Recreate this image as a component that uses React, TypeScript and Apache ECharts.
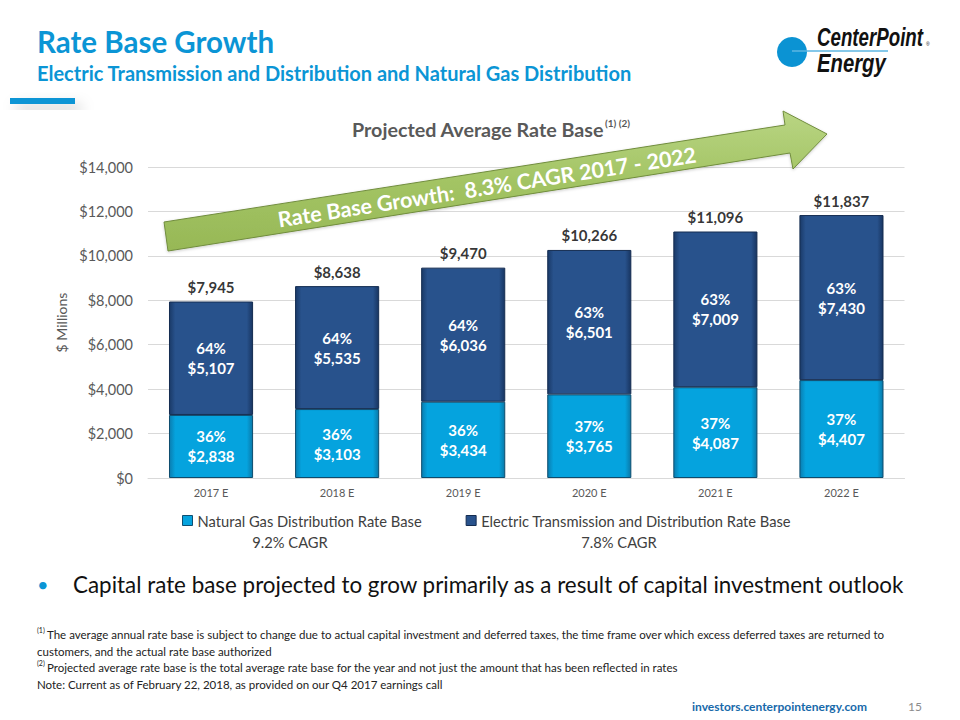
import React, { useEffect, useRef } from "react";
import * as echarts from "echarts";

const categories = ["2017 E", "2018 E", "2019 E", "2020 E", "2021 E", "2022 E"];
const gasValues = [2838, 3103, 3434, 3765, 4087, 4407];
const electricValues = [5107, 5535, 6036, 6501, 7009, 7430];
const seriesNames = [
  "Natural Gas Distribution Rate Base",
  "Electric Transmission and Distribution Rate Base",
];
const cagrLabels = ["9.2% CAGR", "7.8% CAGR"];
const yMin = 0;
const yMax = 14000;
const yInterval = 2000;

const FONT = "Lato, 'Open Sans', sans-serif";
const LOGO_FONT = "'Liberation Sans', Arial, sans-serif";
const BLUE = "#0b95d5";

const fmt = (v: number) => "$" + v.toLocaleString("en-US");

export default function App() {
  const ref = useRef<HTMLDivElement>(null);

  useEffect(() => {
    if (!ref.current) return;
    const chart = echarts.init(ref.current, undefined, { renderer: "svg" });
    const totals = gasValues.map((g, i) => g + electricValues[i]);

    const segLabel = (vals: number[]) => ({
      show: true,
      position: "inside",
      color: "#ffffff",
      fontFamily: FONT,
      fontWeight: "bold",
      fontSize: 15,
      lineHeight: 20,
      formatter: (p: any) => {
        const pct = Math.round((vals[p.dataIndex] / totals[p.dataIndex]) * 100);
        return pct + "%\n" + fmt(vals[p.dataIndex]);
      },
    });

    const navyGrad = {
      type: "linear", x: 0, y: 0, x2: 1, y2: 0,
      colorStops: [
        { offset: 0, color: "#1a3a68" },
        { offset: 0.07, color: "#28528c" },
        { offset: 0.93, color: "#28528c" },
        { offset: 1, color: "#183561" },
      ],
    };
    const lightGrad = {
      type: "linear", x: 0, y: 0, x2: 1, y2: 0,
      colorStops: [
        { offset: 0, color: "#0a7db0" },
        { offset: 0.07, color: "#05a3de" },
        { offset: 0.93, color: "#05a3de" },
        { offset: 1, color: "#0a78a8" },
      ],
    };

    const footY = [634, 651, 667, 684];
    const footFont = `11.5px ${FONT}`;

    chart.setOption({
      animation: false,
      backgroundColor: "#ffffff",
      textStyle: { fontFamily: FONT },
      grid: { left: 148, right: 55.5, top: 167, bottom: 242, containLabel: false },
      xAxis: {
        type: "category",
        data: categories,
        axisTick: { show: false },
        axisLine: { lineStyle: { color: "#d9d9d9", width: 1 } },
        axisLabel: { color: "#595959", fontSize: 11, margin: 9, fontFamily: FONT },
      },
      yAxis: {
        type: "value",
        min: yMin,
        max: yMax,
        interval: yInterval,
        name: "$ Millions",
        nameLocation: "middle",
        nameGap: 70,
        nameRotate: 90,
        nameTextStyle: { color: "#595959", fontSize: 14, fontFamily: FONT },
        axisLine: { show: false },
        axisTick: { show: false },
        splitLine: { lineStyle: { color: "#d9d9d9", width: 1 } },
        axisLabel: {
          color: "#595959",
          fontSize: 14.5,
          margin: 15,
          fontFamily: FONT,
          formatter: (v: number) => fmt(v),
        },
      },
      legend: {
        left: 177,
        top: 508,
        itemWidth: 10,
        itemHeight: 10,
        itemGap: 44,
        icon: "rect",
        textStyle: { color: "#404040", fontSize: 14.7, fontFamily: FONT },
        data: [
          { name: seriesNames[0], itemStyle: { color: "#05a3de", borderColor: "#0e4f72", borderWidth: 1 } },
          { name: seriesNames[1], itemStyle: { color: "#28528c", borderColor: "#142c50", borderWidth: 1 } },
        ],
      },
      series: [
        {
          name: seriesNames[0],
          type: "bar",
          stack: "total",
          barWidth: "66.7%",
          data: gasValues,
          itemStyle: { color: lightGrad, borderColor: "#0d4c6e", borderWidth: 1 },
          label: segLabel(gasValues),
        },
        {
          name: seriesNames[1],
          type: "bar",
          stack: "total",
          barWidth: "66.7%",
          data: electricValues,
          itemStyle: { color: navyGrad, borderColor: "#142c50", borderWidth: 1 },
          label: segLabel(electricValues),
        },
        {
          name: "Total",
          type: "scatter",
          symbolSize: 0,
          silent: true,
          data: totals,
          label: {
            show: true,
            position: "top",
            distance: 7,
            color: "#000000",
            fontWeight: "bold",
            fontSize: 15,
            fontFamily: FONT,
            formatter: (p: any) => fmt(p.value),
          },
          z: 5,
        },
      ],
      graphic: [
        { type: "text", x: 37, y: 41, style: { text: "Rate Base Growth", fill: BLUE, verticalAlign: "middle", font: `bold 29.5px ${FONT}` } },
        {
          type: "text", x: 37, y: 73,
          style: { text: "Electric Transmission and Distribution and Natural Gas Distribution", fill: BLUE, verticalAlign: "middle", font: `bold 20px ${FONT}` },
        },
        {
          type: "rect", shape: { x: 10, y: 98, width: 65, height: 6 },
          style: { fill: BLUE, shadowBlur: 14, shadowColor: "rgba(0,0,0,0.25)", shadowOffsetY: 8, shadowOffsetX: 6 },
        },
        // logo
        { type: "circle", shape: { cx: 792, cy: 52, r: 15 }, style: { fill: "#0b93d3" } },
        { type: "line", shape: { x1: 792, y1: 51, x2: 888, y2: 51 }, style: { stroke: "#5cb6e2", lineWidth: 1.5 } },
        {
          type: "text", x: 817, y: 37, scaleX: 0.72,
          style: {
            text: "CenterPoint", fill: "#111111", verticalAlign: "middle",
            font: `italic bold 26px ${LOGO_FONT}`,
          },
        },
        { type: "text", x: 926, y: 44, style: { text: "®", fill: "#111", font: "5px sans-serif", verticalAlign: "middle" } },
        {
          type: "text", x: 817, y: 63, scaleX: 0.78,
          style: {
            text: "Energy", fill: "#111111", verticalAlign: "middle",
            font: `italic bold 26px ${LOGO_FONT}`,
          },
        },
        // chart title
        {
          type: "text", x: 352, y: 129,
          style: { text: "Projected Average Rate Base", fill: "#595959", verticalAlign: "middle", font: `bold 19.7px ${FONT}` },
        },
        {
          type: "text", x: 605, y: 123,
          style: { text: "(1) (2)", fill: "#595959", verticalAlign: "middle", font: `bold 10px ${FONT}` },
        },
        // arrow
        {
          type: "polygon",
          z: 50,
          shape: {
            points: [
              [164, 222], [785, 125], [783, 111], [827, 134], [793, 169], [790, 153], [168, 251],
            ],
          },
          style: {
            fill: {
              type: "linear", x: 0, y: 0, x2: 0, y2: 1,
              colorStops: [
                { offset: 0, color: "#b9d583" },
                { offset: 0.5, color: "#a3c464" },
                { offset: 1, color: "#97b856" },
              ],
            },
            stroke: "#718d3e",
            lineWidth: 1,
            shadowBlur: 3,
            shadowColor: "rgba(0,0,0,0.2)",
            shadowOffsetY: 1,
          },
        },
        {
          type: "text",
          z: 51,
          x: 487,
          y: 187,
          rotation: 0.155,
          style: {
            text: "Rate Base Growth:  8.3% CAGR 2017 - 2022",
            fill: "#ffffff",
            align: "center",
            verticalAlign: "middle",
            font: `bold 21.5px ${FONT}`,
          },
        },
        // CAGR under legend
        { type: "text", x: 290, y: 542, style: { text: cagrLabels[0], fill: "#404040", align: "center", verticalAlign: "middle", font: `14.7px ${FONT}` } },
        { type: "text", x: 619, y: 542, style: { text: cagrLabels[1], fill: "#404040", align: "center", verticalAlign: "middle", font: `14.7px ${FONT}` } },
        // bullet
        { type: "text", x: 37, y: 584, style: { text: "•", fill: BLUE, verticalAlign: "middle", font: `20px ${FONT}` } },
        {
          type: "text", x: 73, y: 584,
          style: {
            text: "Capital rate base projected to grow primarily as a result of capital investment outlook",
            fill: "#111111", verticalAlign: "middle", font: `22.4px ${FONT}`,
          },
        },
        // footnotes
        { type: "text", x: 37, y: footY[0] - 4, style: { text: "(1)", fill: "#222", verticalAlign: "middle", font: `7px ${FONT}` } },
        {
          type: "text", x: 47, y: footY[0],
          style: {
            text: "The average annual rate base is subject to change due to actual capital investment and deferred taxes, the time frame over which excess deferred taxes are returned to",
            fill: "#222", verticalAlign: "middle", font: footFont,
          },
        },
        {
          type: "text", x: 37, y: footY[1],
          style: { text: "customers, and the actual rate base authorized", fill: "#222", verticalAlign: "middle", font: footFont },
        },
        { type: "text", x: 37, y: footY[2] - 4, style: { text: "(2)", fill: "#222", verticalAlign: "middle", font: `7px ${FONT}` } },
        {
          type: "text", x: 47, y: footY[2],
          style: {
            text: "Projected average rate base is the total average rate base for the year and not just the amount that has been reflected in rates",
            fill: "#222", verticalAlign: "middle", font: footFont,
          },
        },
        {
          type: "text", x: 37, y: footY[3],
          style: {
            text: "Note: Current as of February 22, 2018, as provided on our Q4 2017 earnings call",
            fill: "#222", verticalAlign: "middle", font: footFont,
          },
        },
        {
          type: "text", x: 867, y: 706,
          style: { text: "investors.centerpointenergy.com", fill: "#1769aa", align: "right", verticalAlign: "middle", font: `bold 12px ${FONT}` },
        },
        {
          type: "text", x: 908, y: 706,
          style: { text: "15", fill: "#8c8c8c", verticalAlign: "middle", font: `12px ${FONT}` },
        },
      ],
    });

    return () => chart.dispose();
  }, []);

  return (
    <div
      ref={ref}
      style={{ position: "fixed", left: 0, top: 0, width: 960, height: 720, background: "#fff" }}
    />
  );
}
